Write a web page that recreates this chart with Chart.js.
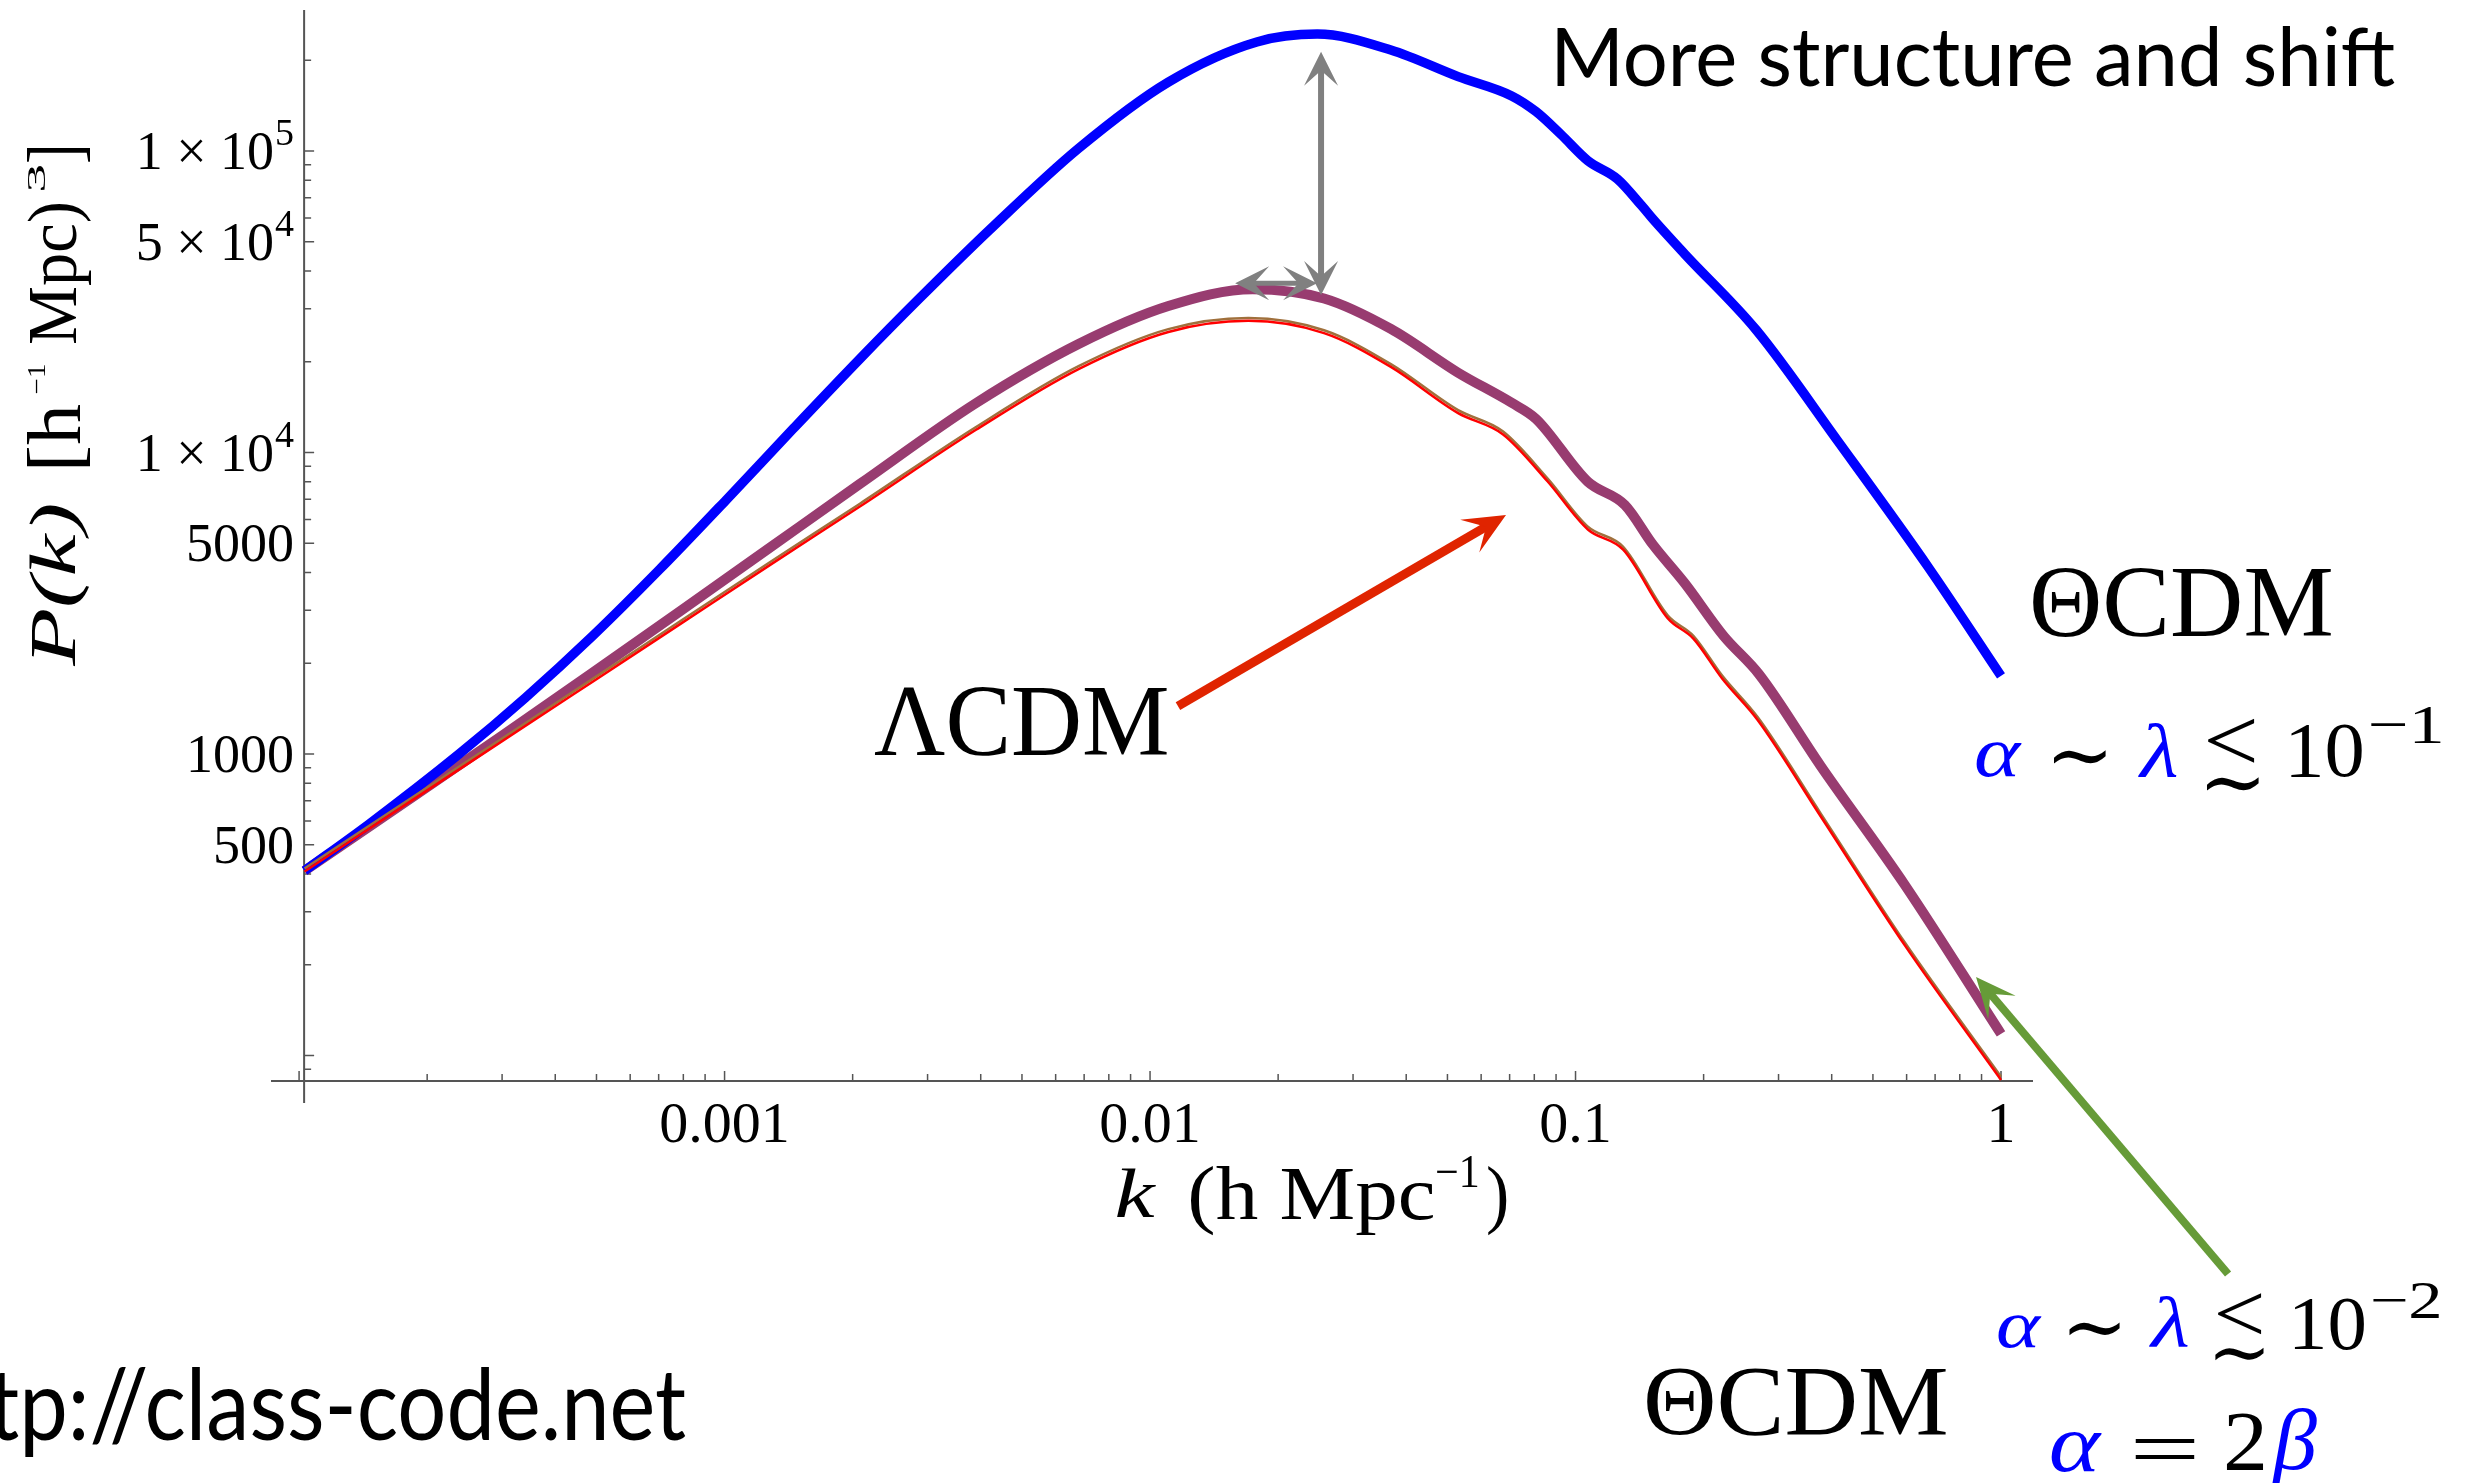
<!DOCTYPE html>
<html>
<head>
<meta charset="utf-8">
<title>P(k): ΛCDM vs ΘCDM</title>
<script src="https://cdn.jsdelivr.net/npm/chart.js@4.4.1/dist/chart.umd.min.js"></script>
<style>
  html, body { margin: 0; padding: 0; background: #fff; overflow: hidden; }
  canvas { display: block; }
</style>
</head>
<body>
<canvas id="pk" width="2471" height="1483"></canvas>
<script>
// matter power spectra: k in h/Mpc, P(k) in (Mpc/h)^3

// ΘCDM, alpha ~ lambda <~ 1e-1
const kTheta1 = [1.03e-4, 1.459e-4, 2.377e-4, 3.404e-4, 4.898e-4, 7.031e-4, 1.009e-3, 1.449e-3, 2.080e-3, 2.851e-3,
  4.198e-3, 6.792e-3, 1.104e-2, 1.782e-2, 2.472e-2, 3.681e-2, 5.297e-2, 7.079e-2, 8.072e-2, 9.226e-2,
  0.1069, 0.1253, 0.1432, 0.1521, 0.1807, 0.2661, 0.415, 0.6745, 1.0];
const pTheta1 = [410, 585, 1000, 1538, 2466, 4093, 6966, 11990, 20460, 32140,
  54830, 102100, 169400, 230100, 244300, 216300, 176600, 152400, 135200, 113800,
  92900, 80910, 65770, 59430, 45500, 25470, 10840, 4169, 1816];

// ΘCDM, alpha ~ lambda <~ 1e-2, alpha = 2 beta
const kTheta2 = [1.03e-4, 1.866e-4, 3.013e-4, 4.898e-4, 7.943e-4, 1.288e-3, 2.080e-3, 3.899e-3, 6.792e-3, 1.104e-2,
  1.742e-2, 2.564e-2, 3.681e-2, 5.297e-2, 7.079e-2, 8.072e-2, 0.1069, 0.1306, 0.1521, 0.1807,
  0.2228, 0.2698, 0.3767, 0.5943, 1.0];
const pTheta2 = [410, 726, 1156, 1862, 3006, 4875, 7870, 14590, 22910, 30620,
  34830, 32430, 25700, 18410, 14620, 12940, 8000, 6699, 4943, 3681,
  2466, 1841, 914, 368, 118];

// ΛCDM reference (two runs)
const kLcdm = [1.03e-4, 1.866e-4, 3.013e-4, 4.898e-4, 7.943e-4, 1.288e-3, 2.080e-3, 3.899e-3, 6.792e-3, 1.104e-2,
  1.702e-2, 2.564e-2, 3.681e-2, 5.297e-2, 6.745e-2, 8.590e-2, 0.1069, 0.1294, 0.1648, 0.1892,
  0.2213, 0.2679, 0.3767, 0.5943, 1.0];
const pLcdm = [408, 710, 1107, 1738, 2723, 4266, 6622, 11900, 18920, 25120,
  27350, 24890, 19230, 13520, 11510, 8035, 5559, 4764, 2818, 2415,
  1778, 1297, 622, 232, 83];
const pLcdmAlt = [417, 726, 1131, 1776, 2783, 4360, 6768, 12160, 19340, 25670,
  27950, 25440, 19650, 13820, 11760, 8212, 5681, 4869, 2880, 2468,
  1817, 1326, 636, 237, 85];

const xTicks = [0.001, 0.01, 0.1, 1];
const xTickText = ['0.001', '0.01', '0.1', '1'];
const yTicks = [500, 1000, 5000, 1e4, 5e4, 1e5];
const yTickText = [['500'], ['1000'], ['5000'], ['1 × 10', '4'], ['5 × 10', '4'], ['1 × 10', '5']];

// plot range and where the axes cross
const kRange = [8.59e-5, 1.189];
const pRange = [69.6, 293700];
const origin = { k: 1.0276e-4, p: 82.3 };

// arrows, endpoints in (k, P)
const arrows = [
  { from: [0.02523, 33300], to: [0.02523, 213500], color: '#808080', width: 6, both: true, len: 34, half: 17 },
  { from: [0.01585, 36410], to: [0.02469, 36410], color: '#808080', width: 5, both: true, len: 34, half: 17 },
  { from: [0.01163, 1443], to: [0.06865, 6204], color: '#e02400', width: 9, len: 42, half: 19 },
  { from: [3.417, 18.85], to: [0.8736, 182.2], color: '#669b38', width: 8, len: 40, half: 18 }
];

const serif = '"Liberation Serif", "DejaVu Serif", serif';
const gill = 'Lato, "Open Sans", sans-serif';
const BLUE = '#0000ff';

// free text, each piece fitted into its ink box [left, top, right, bottom];
// u: keep the glyph proportions, scale by width and centre vertically
const notes = [
  { s: 'More structure and shift', f: '82px ' + gill, box: [1557, 27, 2395, 87] },
  { s: 'ΛCDM', f: '102px ' + serif, box: [875, 687, 1167, 756] },
  { s: 'ΘCDM', f: '102px ' + serif, box: [2033, 568, 2331, 637] },
  { s: 'ΘCDM', f: '102px ' + serif, box: [1647, 1368, 1946, 1435] },

  { s: 'α', f: 'italic 84px ' + serif, box: [1976, 742, 2022, 777], c: BLUE },
  { s: '∼', f: '84px ' + serif, box: [2053, 747, 2106, 767], u: true },
  { s: 'λ', f: 'italic 84px ' + serif, box: [2137, 722, 2177, 777], c: BLUE },
  { s: '<', f: '84px ' + serif, box: [2208, 718, 2255, 763] },
  { s: '∼', f: '84px ' + serif, box: [2206, 775, 2259, 793], u: true },
  { s: '10', f: '84px ' + serif, box: [2291, 723, 2362, 777] },
  { s: '−1', f: '60px ' + serif, box: [2370, 707, 2441, 743] },

  { s: 'α', f: 'italic 80px ' + serif, box: [1998, 1315, 2042, 1348], c: BLUE },
  { s: '∼', f: '80px ' + serif, box: [2069, 1320, 2120, 1337], u: true },
  { s: 'λ', f: 'italic 80px ' + serif, box: [2149, 1297, 2188, 1348], c: BLUE },
  { s: '<', f: '80px ' + serif, box: [2217, 1293, 2262, 1335] },
  { s: '∼', f: '80px ' + serif, box: [2215, 1345, 2264, 1363], u: true },
  { s: '10', f: '80px ' + serif, box: [2295, 1298, 2364, 1350] },
  { s: '−2', f: '58px ' + serif, box: [2372, 1283, 2439, 1318] },

  { s: 'α', f: 'italic 90px ' + serif, box: [2051, 1432, 2102, 1472], c: BLUE },
  { s: '=', f: '90px ' + serif, box: [2135, 1438, 2195, 1458] },
  { s: '2', f: '90px ' + serif, box: [2226, 1413, 2264, 1470] },
  { s: 'β', f: 'italic 90px ' + serif, box: [2271, 1408, 2317, 1487], c: BLUE },

  // axis titles
  { s: 'k', f: 'italic 70px ' + serif, box: [1117, 1168, 1157, 1217] },
  { s: '(h Mpc', f: '70px ' + serif, box: [1191, 1166, 1433, 1235] },
  { s: '−1', f: '46px ' + serif, box: [1437, 1156, 1478, 1187] },
  { s: ')', f: '70px ' + serif, box: [1488, 1166, 1507, 1235] },
  { s: 'P(k)', f: 'italic 84px ' + serif, box: [30, 505, 90, 667], rot: true },
  { s: '[h', f: '62px ' + serif, box: [28, 404, 90, 467], rot: true },
  { s: '−1', f: '42px ' + serif, box: [28, 365, 45, 393], rot: true },
  { s: 'Mpc)', f: '62px ' + serif, box: [28, 204, 92, 344], rot: true },
  { s: '3', f: '42px ' + serif, box: [28, 165, 45, 190], rot: true },
  { s: ']', f: '62px ' + serif, box: [28, 147, 90, 162], rot: true }
];

function fitBox(ctx, n) {
  const [l, t, r, b] = n.box;
  ctx.save();
  ctx.font = n.f;
  ctx.fillStyle = n.c || '#000';
  ctx.textAlign = 'left';
  ctx.textBaseline = 'alphabetic';
  const m = ctx.measureText(n.s);
  const gw = m.actualBoundingBoxLeft + m.actualBoundingBoxRight;
  const gh = m.actualBoundingBoxAscent + m.actualBoundingBoxDescent;
  if (n.rot) {
    ctx.translate(l, b);
    ctx.rotate(-Math.PI / 2);
    ctx.scale((b - t) / gw, (r - l) / gh);
  } else if (n.u) {
    const k = (r - l) / gw;
    ctx.translate(l, (t + b) / 2 - gh * k / 2);
    ctx.scale(k, k);
  } else {
    ctx.translate(l, t);
    ctx.scale((r - l) / gw, (b - t) / gh);
  }
  ctx.fillText(n.s, m.actualBoundingBoxLeft, m.actualBoundingBoxAscent);
  ctx.restore();
}

function drawHead(ctx, tx, ty, ux, uy, len, half) {
  const nx = -uy, ny = ux;
  ctx.beginPath();
  ctx.moveTo(tx, ty);
  ctx.lineTo(tx - ux * len + nx * half, ty - uy * len + ny * half);
  ctx.lineTo(tx - ux * len * 0.55, ty - uy * len * 0.55);
  ctx.lineTo(tx - ux * len - nx * half, ty - uy * len - ny * half);
  ctx.closePath();
  ctx.fill();
}

function drawArrow(ctx, x, y, a) {
  const x1 = x.getPixelForValue(a.from[0]), y1 = y.getPixelForValue(a.from[1]);
  const x2 = x.getPixelForValue(a.to[0]), y2 = y.getPixelForValue(a.to[1]);
  const d = Math.hypot(x2 - x1, y2 - y1);
  const ux = (x2 - x1) / d, uy = (y2 - y1) / d;
  const back = a.len * 0.5;
  ctx.save();
  ctx.strokeStyle = a.color;
  ctx.fillStyle = a.color;
  ctx.lineWidth = a.width;
  ctx.beginPath();
  ctx.moveTo(a.both ? x1 + ux * back : x1, a.both ? y1 + uy * back : y1);
  ctx.lineTo(x2 - ux * back, y2 - uy * back);
  ctx.stroke();
  drawHead(ctx, x2, y2, ux, uy, a.len, a.half);
  if (a.both) drawHead(ctx, x1, y1, -ux, -uy, a.len, a.half);
  ctx.restore();
}

// Mathematica-style axes crossing at the origin, ticks pointing inward
const axesPlugin = {
  id: 'crossAxes',
  beforeDatasetsDraw(chart) {
    const { ctx, scales: { x, y } } = chart;
    const ox = x.getPixelForValue(origin.k);
    const oy = y.getPixelForValue(origin.p);
    ctx.save();
    ctx.strokeStyle = '#555';
    ctx.lineWidth = 2;
    ctx.beginPath();
    ctx.moveTo(x.left, oy); ctx.lineTo(x.right, oy);
    ctx.moveTo(ox, y.top); ctx.lineTo(ox, y.bottom);
    ctx.stroke();

    ctx.lineWidth = 1.5;
    ctx.beginPath();
    for (let e = -4; e <= 0; e++) {
      for (let m = 1; m <= 9; m++) {
        const v = m * Math.pow(10, e);
        const px = x.getPixelForValue(v);
        if (px < x.left || px > x.right) continue;
        const len = m === 1 ? 10 : 7;
        ctx.moveTo(px, oy); ctx.lineTo(px, oy - len);
      }
    }
    for (let e = 1; e <= 5; e++) {
      for (let m = 1; m <= 9; m++) {
        const v = m * Math.pow(10, e);
        if (v <= origin.p || v > pRange[1]) continue;
        const py = y.getPixelForValue(v);
        const len = (m === 1 || m === 5) && v < 2e5 ? 10 : 7;
        ctx.moveTo(ox, py); ctx.lineTo(ox + len, py);
      }
    }
    ctx.stroke();

    // tick labels
    ctx.fillStyle = '#000';
    ctx.textBaseline = 'alphabetic';
    xTicks.forEach((v, i) => {
      ctx.font = '58px ' + serif;
      ctx.textAlign = 'center';
      ctx.fillText(xTickText[i], x.getPixelForValue(v), oy + 61);
    });
    yTicks.forEach((v, i) => {
      const base = y.getPixelForValue(v) + 18;
      const right = ox - 10;
      const parts = yTickText[i];
      ctx.textAlign = 'right';
      if (parts.length === 2) {
        ctx.font = '38px ' + serif;
        ctx.fillText(parts[1], right, base - 24);
        const ws = ctx.measureText(parts[1]).width;
        ctx.font = '54px ' + serif;
        ctx.fillText(parts[0], right - ws - 1, base);
      } else {
        ctx.font = '54px ' + serif;
        ctx.fillText(parts[0], right, base);
      }
    });
    ctx.restore();
  }
};

const notesPlugin = {
  id: 'notes',
  afterDatasetsDraw(chart) {
    const { ctx, scales: { x, y } } = chart;
    arrows.forEach(a => drawArrow(ctx, x, y, a));
    notes.forEach(n => fitBox(ctx, n));

    // url, partly off the left edge
    ctx.save();
    ctx.font = '92px ' + gill;
    ctx.fillStyle = '#000';
    const tail = 'tp://class-code.net';
    const mt = ctx.measureText(tail), mh = ctx.measureText('ht');
    const sx = 697 / (mt.actualBoundingBoxLeft + mt.actualBoundingBoxRight);
    const sy = 89 / (mt.actualBoundingBoxAscent + mt.actualBoundingBoxDescent);
    ctx.translate(-8, 1368);
    ctx.scale(sx, sy);
    ctx.fillText('http://class-code.net', mt.actualBoundingBoxLeft - mh.width, mt.actualBoundingBoxAscent);
    ctx.restore();
  }
};

function series(label, k, p, color, width, order) {
  return {
    label,
    data: k.map((v, i) => ({ x: v, y: p[i] })),
    borderColor: color,
    borderWidth: width,
    pointRadius: 0,
    fill: false,
    cubicInterpolationMode: 'monotone',
    borderJoinStyle: 'round',
    order
  };
}

new Chart(document.getElementById('pk'), {
  type: 'line',
  data: {
    datasets: [
      series('ΘCDM α∼λ≲10⁻¹', kTheta1, pTheta1, '#0000ff', 9.5, 2),
      series('ΘCDM α∼λ≲10⁻², α=2β', kTheta2, pTheta2, '#983c70', 10, 3),
      series('ΛCDM (alt)', kLcdm, pLcdmAlt, '#a0703c', 2.5, 1),
      series('ΛCDM', kLcdm, pLcdm, '#ff0000', 2.5, 0)
    ]
  },
  options: {
    responsive: false,
    animation: false,
    devicePixelRatio: 1,
    layout: { padding: { left: 271, right: 438, top: 10, bottom: 380 } },
    scales: {
      x: { type: 'logarithmic', min: kRange[0], max: kRange[1], display: false },
      y: { type: 'logarithmic', min: pRange[0], max: pRange[1], display: false }
    },
    plugins: { legend: { display: false }, tooltip: { enabled: false } }
  },
  plugins: [axesPlugin, notesPlugin]
});
</script>
</body>
</html>
